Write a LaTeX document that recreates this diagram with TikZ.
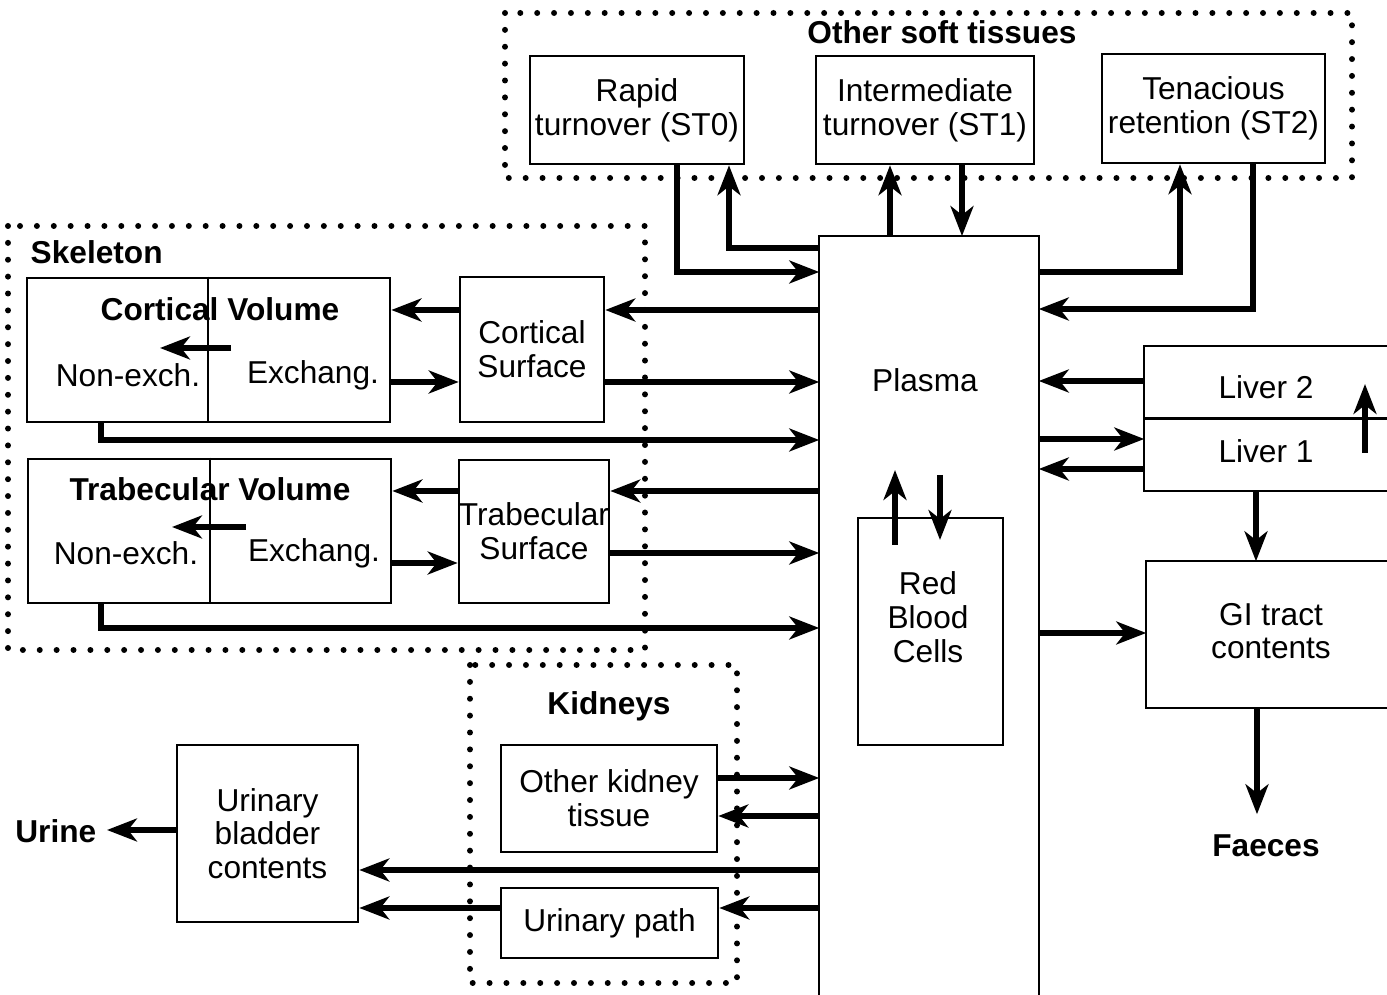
\documentclass[tikz,border=0pt]{standalone}
\usepackage{fontspec}
\setmainfont{Liberation Sans}
\usetikzlibrary{arrows.meta}
\begin{document}
\begin{tikzpicture}[x=0.01cm,y=-0.01cm,
  txt/.style={font=\fontsize{9}{9.6}\selectfont, inner sep=0pt, align=center},
  ttl/.style={font=\bfseries\fontsize{9}{9.6}\selectfont, inner sep=0pt},
  box/.style={draw, line width=0.7pt, inner sep=0pt, align=center, font=\fontsize{9}{9.6}\selectfont},
  frame/.style={line width=0.7pt},
  arr/.style={line width=1.5pt, -{Stealth[length=8.5pt,width=6.5pt,inset=2.5pt]}},
  grp/.style={line width=1.7pt, dash pattern=on 0pt off 4.8pt, line cap=round},
]
\useasboundingbox (0,0) rectangle (1387,995);

% group frames
\draw[grp] (505,13) rectangle (1352,178);
\draw[grp] (8,226) rectangle (645,650);
\draw[grp] (470,665) rectangle (737,983);
\node[ttl] (osttl) at (942,32) {Other soft tissues};
\node[ttl, anchor=west] (skttl) at (30,252) {Skeleton};
\node[ttl] (kdttl) at (609,706) {Kidneys};

% soft tissue boxes
\node[box, minimum width=2.14cm, minimum height=1.08cm] (st0) at (637,110) {Rapid\\turnover (ST0)};
\node[box, minimum width=2.18cm, minimum height=1.08cm] (st1) at (925,110) {Intermediate\\turnover (ST1)};
\node[box, minimum width=2.23cm, minimum height=1.09cm] (st2) at (1213.5,108.5) {Tenacious\\retention (ST2)};

% plasma (open at the bottom)
\node[inner sep=0pt, minimum width=2.18cm, minimum height=7.58cm] (plasma) at (929,616) {};
\draw[frame] (plasma.south west) -- (plasma.north west) -- (plasma.north east) -- (plasma.south east);
\node[txt] (plasmalbl) at (925,380) {Plasma};
\node[box, minimum width=1.45cm, minimum height=2.27cm] (rbc) at (930.5,631.5) {};
\node[txt] (rbclbl) at (928,617) {Red\\Blood\\Cells};
\draw[arr] (895,545) -- (895,470);
\draw[arr] (940,475) -- (940,540);

% skeleton
\node[box, minimum width=3.63cm, minimum height=1.44cm] (cv) at (208.5,350) {};
\draw[frame] (cv.north -| 208,0) -- (cv.south -| 208,0);
\node[ttl] (cvttl) at (220,309) {Cortical Volume};
\node[txt] (cvne) at (128,375) {Non-exch.};
\node[txt] (cvex) at (313,375) {Exchang.};
\draw[arr] (231,348) -- (160,348);
\node[box, minimum width=1.44cm, minimum height=1.45cm] (cs) at (532,349.5) {Cortical\\Surface};

\node[box, minimum width=3.63cm, minimum height=1.44cm] (tv) at (209.5,531) {};
\draw[frame] (tv.north -| 210,0) -- (tv.south -| 210,0);
\node[ttl] (tvttl) at (210,489) {Trabecular Volume};
\node[txt] (tvne) at (126,553) {Non-exch.};
\node[txt] (tvex) at (314,553) {Exchang.};
\draw[arr] (246,527) -- (172,527);
\node[box, minimum width=1.44cm, minimum height=1.43cm] (ts) at (534,531.5) {Trabecular\\Surface};

% liver and GI (open to the right)
\node[inner sep=0pt, minimum width=2.42cm, minimum height=1.43cm] (liver) at (1266,418.5) {};
\draw[frame] (liver.north east) -- (liver.north west) -- (liver.south west) -- (liver.south east);
\draw[frame] (liver.west) -- (liver.east);
\node[txt] (liv2) at (1266,387) {Liver 2};
\node[txt] (liv1) at (1266,451) {Liver 1};
\draw[arr] (1365,453) -- (1365,384);
\node[inner sep=0pt, minimum width=2.40cm, minimum height=1.45cm] (gi) at (1267,634.5) {};
\draw[frame] (gi.north east) -- (gi.north west) -- (gi.south west) -- (gi.south east);
\node[txt] (gilbl) at (1271,631) {GI tract\\contents};
\node[ttl] (faeces) at (1266,846) {Faeces};

% kidneys and bladder
\node[box, minimum width=2.16cm, minimum height=1.07cm] (okt) at (609,798.5) {Other kidney\\tissue};
\node[box, minimum width=2.17cm, minimum height=0.70cm] (up) at (609.5,923) {Urinary path};
\node[box, minimum width=1.81cm, minimum height=1.77cm] (ubc) at (267.5,833.5) {Urinary\\bladder\\contents};
\node[ttl, anchor=east] (urine) at (97,831) {Urine};

% soft tissue connectors
\draw[arr] (st0.south -| 677,0) |- (plasma.west |- 0,272);
\draw[arr] (plasma.west |- 0,248) -| (st0.south -| 729,0);
\draw[arr] (plasma.north -| 890,0) -- (st1.south -| 890,0);
\draw[arr] (st1.south -| 962,0) -- (plasma.north -| 962,0);
\draw[arr] (plasma.east |- 0,272) -| (st2.south -| 1180,0);
\draw[arr] (st2.south -| 1253,0) |- (plasma.east |- 0,309);

% skeleton connectors
\draw[arr] (plasma.west |- 0,310) -- (cs.east |- 0,310);
\draw[arr] (cs.west |- 0,310) -- (cv.east |- 0,310);
\draw[arr] (cv.east |- 0,382) -- (cs.west |- 0,382);
\draw[arr] (cs.east |- 0,382) -- (plasma.west |- 0,382);
\draw[arr] (cv.south -| 101,0) |- (plasma.west |- 0,440);
\draw[arr] (plasma.west |- 0,491) -- (ts.east |- 0,491);
\draw[arr] (ts.west |- 0,491) -- (tv.east |- 0,491);
\draw[arr] (tv.east |- 0,563) -- (ts.west |- 0,563);
\draw[arr] (ts.east |- 0,553) -- (plasma.west |- 0,553);
\draw[arr] (tv.south -| 101,0) |- (plasma.west |- 0,628);

% liver / GI connectors
\draw[arr] (liver.west |- 0,381) -- (plasma.east |- 0,381);
\draw[arr] (plasma.east |- 0,439) -- (liver.west |- 0,439);
\draw[arr] (liver.west |- 0,469) -- (plasma.east |- 0,469);
\draw[arr] (liver.south -| 1256,0) -- (gi.north -| 1256,0);
\draw[arr] (plasma.east |- 0,633) -- (gi.west |- 0,633);
\draw[arr, shorten >=0.2cm] (gi.south -| 1257,0) -- (faeces.north -| 1257,0);

% kidney connectors
\draw[arr] (okt.east |- 0,778) -- (plasma.west |- 0,778);
\draw[arr] (plasma.west |- 0,816) -- (okt.east |- 0,816);
\draw[arr] (plasma.west |- 0,870) -- (ubc.east |- 0,870);
\draw[arr] (plasma.west |- 0,908) -- (up.east |- 0,908);
\draw[arr] (up.west |- 0,908) -- (ubc.east |- 0,908);
\draw[arr, shorten >=0.1cm] (ubc.west |- 0,830) -- (urine.east |- 0,830);
\end{tikzpicture}
\end{document}
